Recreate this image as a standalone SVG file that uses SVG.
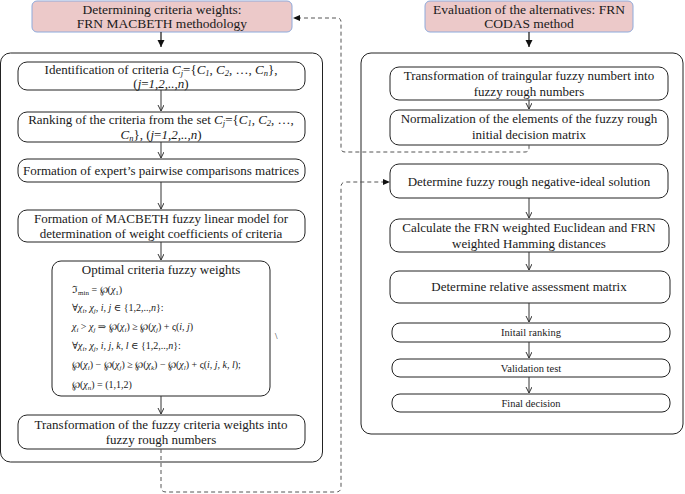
<svg xmlns="http://www.w3.org/2000/svg" width="685" height="494" viewBox="0 0 685 494" font-family="'Liberation Serif','Times New Roman','DejaVu Serif',serif">
<style>
text{font-family:"Liberation Serif","Times New Roman","DejaVu Serif",serif;fill:#1a1a1a}
.t{font-size:13.5px;text-anchor:middle}
.b{font-size:13px;text-anchor:middle}
.s{font-size:10.5px;text-anchor:middle}
.f{font-size:10px}
.title{fill:#ecc9c9;stroke:#8eaadb;stroke-width:1}
.box{fill:#fff;stroke:#222;stroke-width:1}
.outer{fill:none;stroke:#222;stroke-width:1}
.ar{stroke:#333;stroke-width:1;fill:none;marker-end:url(#ah)}
.arb{stroke:#111;stroke-width:1.2;fill:none;marker-end:url(#ahb)}
.dash{stroke:#555;stroke-width:1;fill:none;stroke-dasharray:4,3}
</style>
<defs>
<marker id="ah" markerWidth="8" markerHeight="8" refX="6" refY="3" orient="auto" markerUnits="userSpaceOnUse"><path d="M0,0 L6,3 L0,6" fill="none" stroke="#333" stroke-width="1"/></marker>
<marker id="ahb" markerWidth="8" markerHeight="8" refX="7" refY="3.5" orient="auto" markerUnits="userSpaceOnUse"><path d="M0,0 L7,3.5 L0,7 Z" fill="#111"/></marker>
</defs>
<rect width="685" height="494" fill="#fff"/>

<g id="outer-left"><rect class="outer" x="0.5" y="53" width="322" height="409" rx="10"/></g>
<g id="outer-right"><rect class="outer" x="361" y="53" width="322" height="381" rx="10"/></g>

<g id="title-left"><rect class="title" x="32" y="1" width="260" height="31" rx="5"/>
<text class="t" x="162" y="13.5">Determining criteria weights:</text>
<text class="t" x="162" y="27.5">FRN MACBETH methodology</text></g>

<g id="title-right"><rect class="title" x="425" y="1" width="208" height="31" rx="5"/>
<text class="t" x="529" y="13.5">Evaluation of the alternatives: FRN</text>
<text class="t" x="529" y="27.5">CODAS method</text></g>

<g id="identification"><rect class="box" x="18" y="62" width="287" height="28" rx="9"/>
<text class="b" x="161" y="74">Identification of criteria <tspan font-style="italic">C<tspan font-size="8.5" dy="2">j</tspan></tspan><tspan dy="-2">={</tspan><tspan font-style="italic">C<tspan font-size="8.5" dy="2">1</tspan></tspan><tspan dy="-2">, </tspan><tspan font-style="italic">C<tspan font-size="8.5" dy="2">2</tspan></tspan><tspan dy="-2">, …, </tspan><tspan font-style="italic">C<tspan font-size="8.5" dy="2">n</tspan></tspan><tspan dy="-2">},</tspan></text>
<text class="b" x="161" y="87.5">(<tspan font-style="italic">j</tspan>=<tspan font-style="italic">1,2,..,n</tspan>)</text></g>

<g id="ranking"><rect class="box" x="18" y="112" width="287" height="30" rx="9"/>
<text class="b" x="161" y="123.5">Ranking of the criteria from the set <tspan font-style="italic">C<tspan font-size="8.5" dy="2">j</tspan></tspan><tspan dy="-2">={</tspan><tspan font-style="italic">C<tspan font-size="8.5" dy="2">1</tspan></tspan><tspan dy="-2">, </tspan><tspan font-style="italic">C<tspan font-size="8.5" dy="2">2</tspan></tspan><tspan dy="-2">, …,</tspan></text>
<text class="b" x="161" y="138.5"><tspan font-style="italic">C<tspan font-size="8.5" dy="2">n</tspan></tspan><tspan dy="-2">}, (</tspan><tspan font-style="italic">j</tspan>=<tspan font-style="italic">1,2,..,n</tspan>)</text></g>

<g id="expert"><rect class="box" x="18" y="159" width="287" height="23" rx="9"/>
<text class="b" x="161" y="175">Formation of expert’s pairwise comparisons matrices</text></g>

<g id="macbeth"><rect class="box" x="18" y="210" width="287" height="32" rx="9"/>
<text class="b" x="161" y="223">Formation of MACBETH fuzzy linear model for</text>
<text class="b" x="161" y="238">determination of weight coefficients of criteria</text></g>

<g id="optimal"><rect class="box" x="52" y="261" width="218" height="135" rx="9"/>
<text class="b" x="161" y="274">Optimal criteria fuzzy weights</text>
<text class="f" x="72" y="293">ℑ<tspan font-size="7" dy="2">min</tspan><tspan dy="-2"> = ℘(</tspan><tspan font-style="italic">χ</tspan><tspan font-size="7" dy="2">1</tspan><tspan dy="-2">)</tspan></text>
<text class="f" x="72" y="311">∀<tspan font-style="italic">χ</tspan><tspan font-size="7" dy="2" font-style="italic">i</tspan><tspan dy="-2">, </tspan><tspan font-style="italic">χ</tspan><tspan font-size="7" dy="2" font-style="italic">j</tspan><tspan dy="-2" font-style="italic">, i, j</tspan> ∈ {1,2,..,<tspan font-style="italic">n</tspan>}:</text>
<text class="f" x="72" y="330"><tspan font-style="italic">χ</tspan><tspan font-size="7" dy="2" font-style="italic">i</tspan><tspan dy="-2"> &gt; </tspan><tspan font-style="italic">χ</tspan><tspan font-size="7" dy="2" font-style="italic">j</tspan><tspan dy="-2"> ⇒ ℘(</tspan><tspan font-style="italic">χ</tspan><tspan font-size="7" dy="2" font-style="italic">i</tspan><tspan dy="-2">) ≥ ℘(</tspan><tspan font-style="italic">χ</tspan><tspan font-size="7" dy="2" font-style="italic">j</tspan><tspan dy="-2">) + ς(</tspan><tspan font-style="italic">i, j</tspan>)</text>
<text class="f" x="72" y="349">∀<tspan font-style="italic">χ</tspan><tspan font-size="7" dy="2" font-style="italic">i</tspan><tspan dy="-2">, </tspan><tspan font-style="italic">χ</tspan><tspan font-size="7" dy="2" font-style="italic">j</tspan><tspan dy="-2" font-style="italic">, i, j, k, l</tspan> ∈ {1,2,..,<tspan font-style="italic">n</tspan>}:</text>
<text class="f" x="72" y="368">℘(<tspan font-style="italic">χ</tspan><tspan font-size="7" dy="2" font-style="italic">i</tspan><tspan dy="-2">) − ℘(</tspan><tspan font-style="italic">χ</tspan><tspan font-size="7" dy="2" font-style="italic">j</tspan><tspan dy="-2">) ≥ ℘(</tspan><tspan font-style="italic">χ</tspan><tspan font-size="7" dy="2" font-style="italic">k</tspan><tspan dy="-2">) − ℘(</tspan><tspan font-style="italic">χ</tspan><tspan font-size="7" dy="2" font-style="italic">l</tspan><tspan dy="-2">) + ς(</tspan><tspan font-style="italic">i, j, k, l</tspan>);</text>
<text class="f" x="72" y="388">℘(<tspan font-style="italic">χ</tspan><tspan font-size="7" dy="2" font-style="italic">n</tspan><tspan dy="-2">) = (1,1,2)</tspan></text>
</g>
<text x="275" y="339" font-size="9">\</text>

<g id="transform-weights"><rect class="box" x="18" y="415" width="287" height="34" rx="9"/>
<text class="b" x="161" y="429">Transformation of the fuzzy criteria weights into</text>
<text class="b" x="161" y="444">fuzzy rough numbers</text></g>

<g id="transform-tfn"><rect class="box" x="390" y="67" width="278" height="33" rx="9"/>
<text class="b" x="529" y="80">Transformation of traingular fuzzy numbert into</text>
<text class="b" x="529" y="96">fuzzy rough numbers</text></g>

<g id="normalization"><rect class="box" x="390" y="110" width="278" height="35" rx="9"/>
<text class="b" x="529" y="123">Normalization of the elements of the fuzzy rough</text>
<text class="b" x="529" y="139">initial decision matrix</text></g>

<g id="negative-ideal"><rect class="box" x="390" y="164" width="278" height="34" rx="9"/>
<text class="b" x="529" y="186">Determine fuzzy rough negative-ideal solution</text></g>

<g id="distances"><rect class="box" x="390" y="219" width="279" height="33" rx="9"/>
<text class="b" x="529" y="232">Calculate the FRN weighted Euclidean and FRN</text>
<text class="b" x="529" y="248">weighted Hamming distances</text></g>

<g id="relative"><rect class="box" x="390" y="271" width="280" height="32" rx="9"/>
<text class="b" x="529" y="291">Determine relative assessment matrix</text></g>

<g id="initial"><rect class="box" x="392" y="323" width="278" height="19" rx="8"/>
<text class="s" x="531" y="336">Initail ranking</text></g>
<g id="validation"><rect class="box" x="392" y="359" width="278" height="18" rx="8"/>
<text class="s" x="531" y="372">Validation test</text></g>
<g id="final"><rect class="box" x="392" y="394" width="278" height="18" rx="8"/>
<text class="s" x="531" y="407">Final decision</text></g>

<g id="connectors">
<path class="arb" d="M161,32 V47"/>
<path class="arb" d="M529,32 V47"/>
<path class="ar" d="M161,90 V111"/>
<path class="ar" d="M161,142 V158"/>
<path class="ar" d="M161,182 V209"/>
<path class="ar" d="M161,242 V260"/>
<path class="ar" d="M161,396 V414"/>
<path class="ar" d="M529,100 V109"/>
<path class="ar" d="M529,198 V218"/>
<path class="ar" d="M529,252 V270"/>
<path class="ar" d="M529,303 V322"/>
<path class="ar" d="M529,342 V358"/>
<path class="ar" d="M529,377 V393"/>
<path class="dash" d="M529,145 V148 Q529,152 525,152 H345 Q341,152 341,148 V22 Q341,18 337,18 H300"/>
<path d="M293,18 L300,15 L300,21 Z" fill="#111"/>
<path class="dash" d="M161,449 V487 Q161,492 166,492 H336 Q341,492 341,487 V187 Q341,182 346,182 H383"/>
<path d="M390,182 L383,179 L383,185 Z" fill="#111"/>
</g>
</svg>
